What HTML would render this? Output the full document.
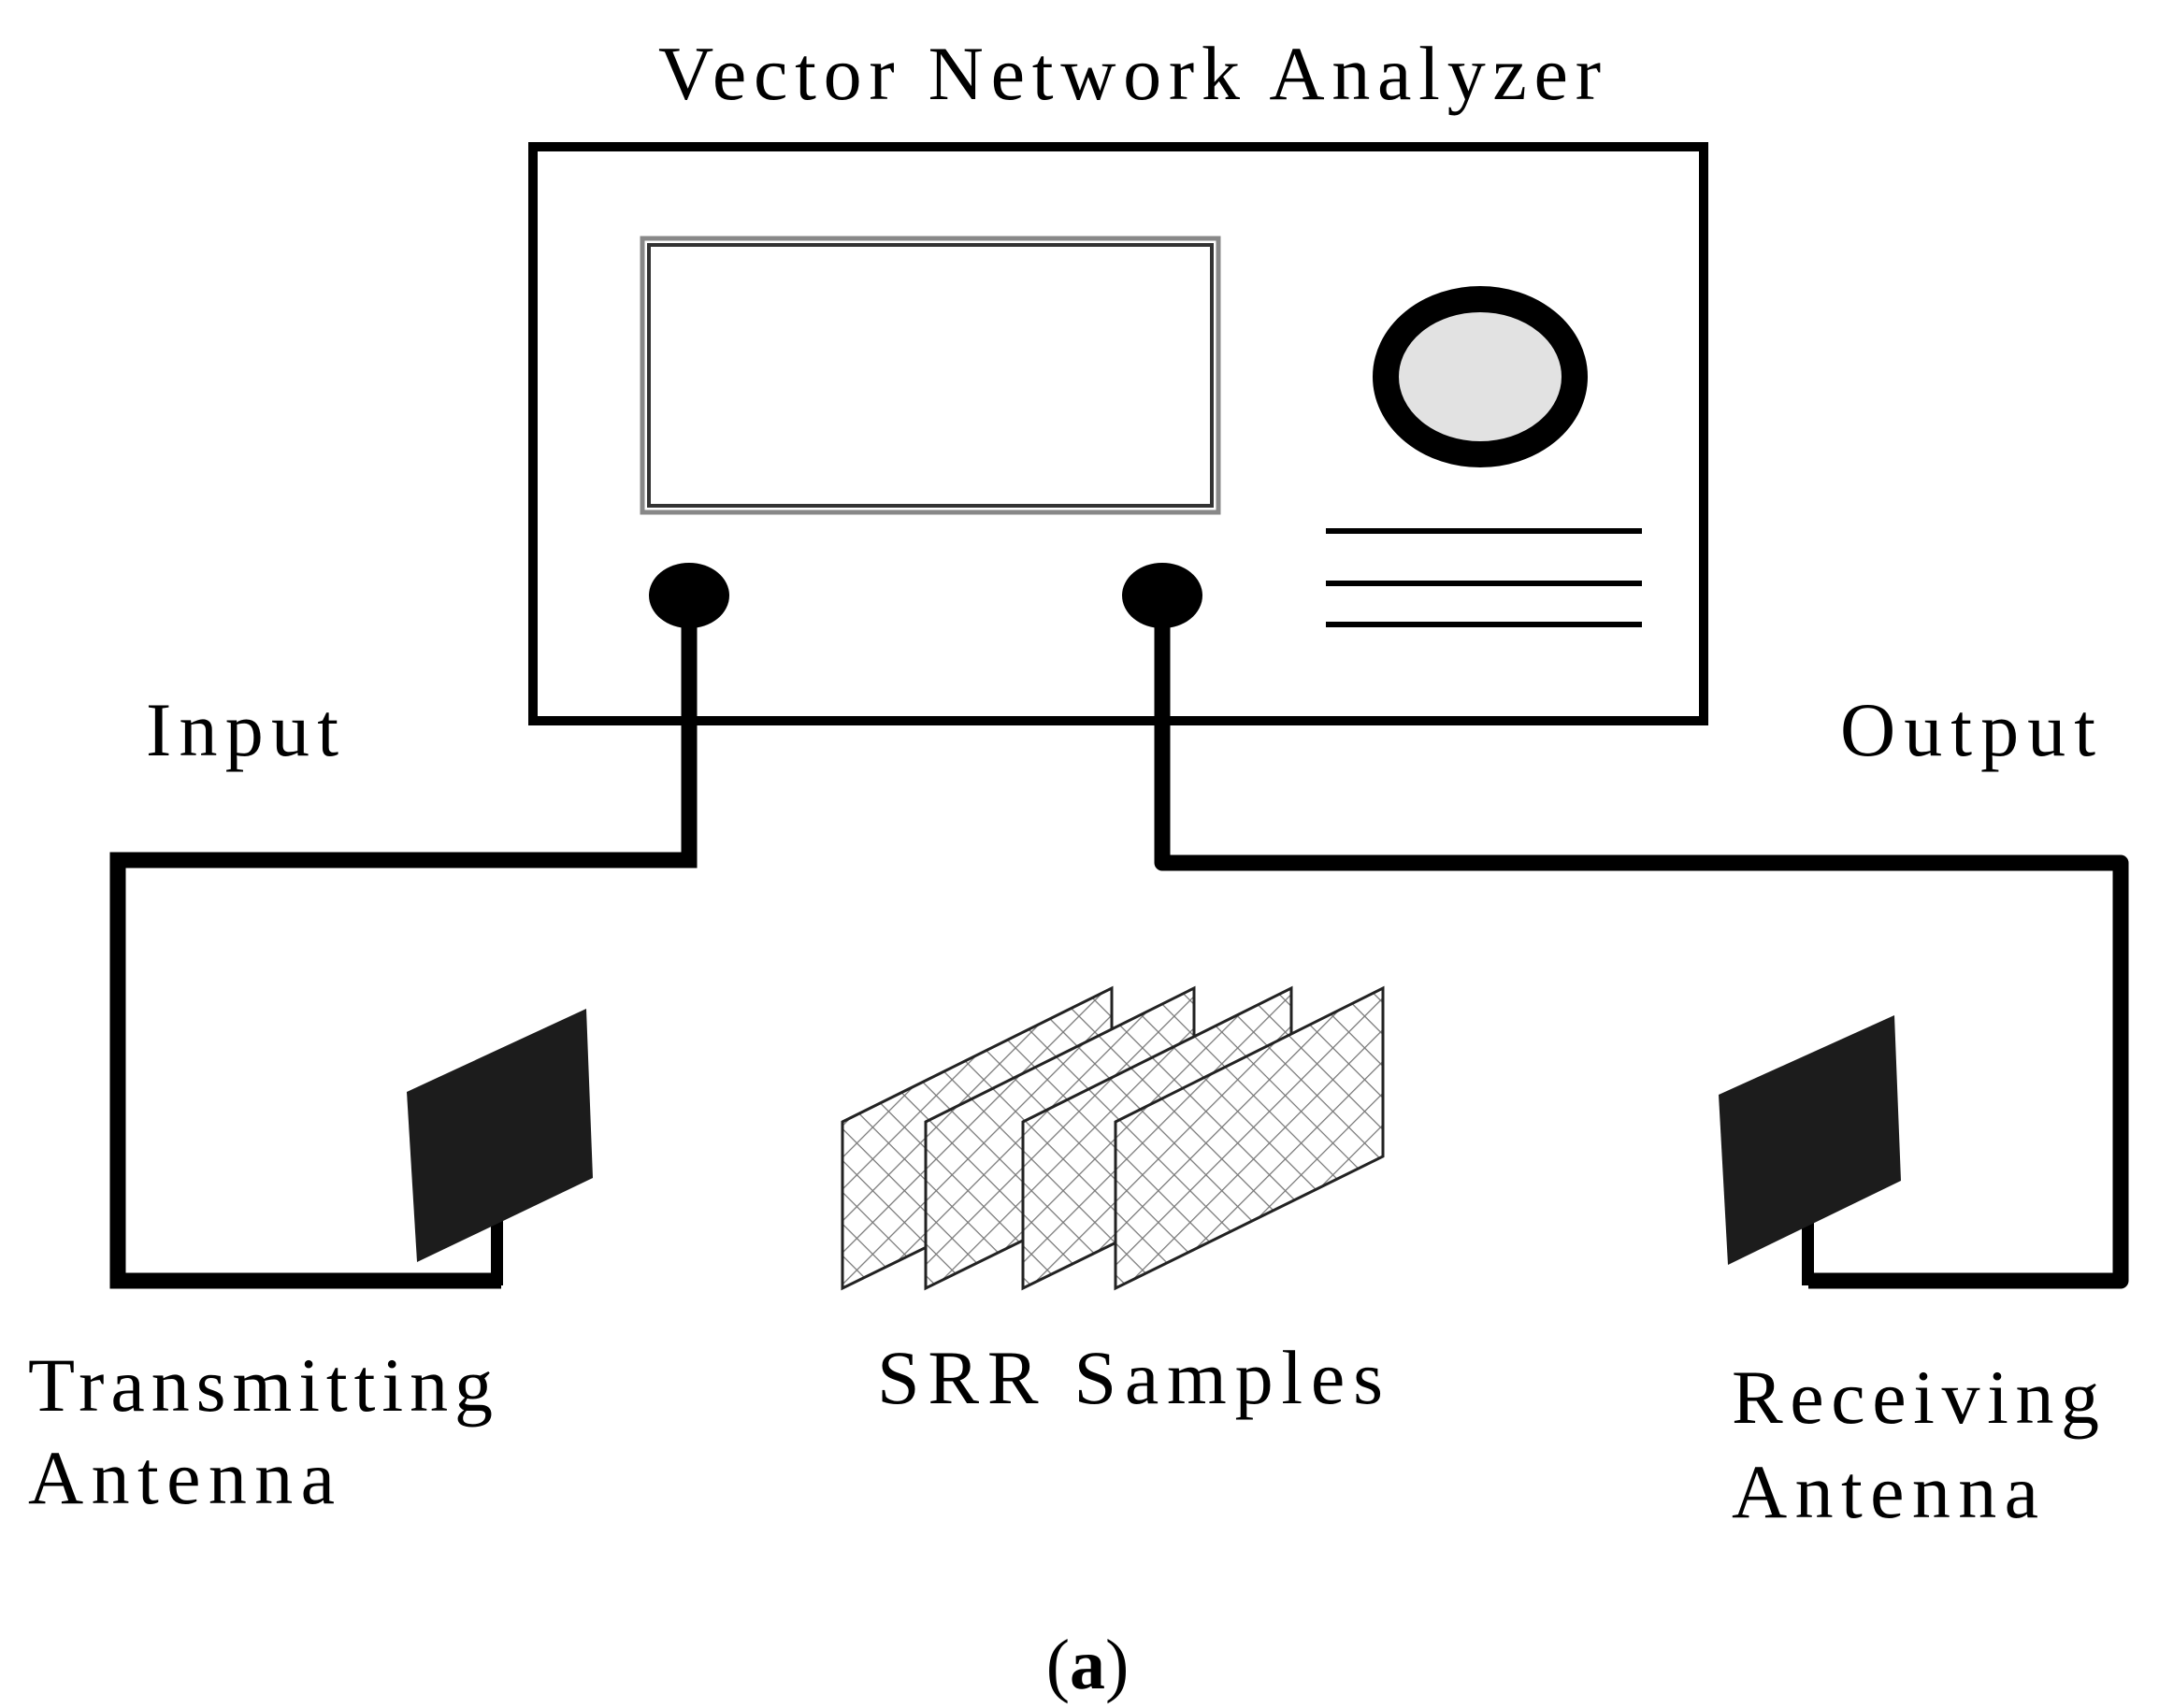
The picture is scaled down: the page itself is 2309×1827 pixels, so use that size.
<!DOCTYPE html>
<html><head><meta charset="utf-8"><style>
html,body{margin:0;padding:0;background:#fff;}
svg{display:block;}
text{font-family:"Liberation Serif",serif;fill:#000;}
</style></head><body>
<svg width="2309" height="1827" viewBox="0 0 2309 1827" xmlns="http://www.w3.org/2000/svg">
<defs>
<pattern id="hatch" width="24" height="24" patternUnits="userSpaceOnUse" patternTransform="rotate(45)">
<rect width="24" height="24" fill="#fff"/>
<line x1="0" y1="0" x2="0" y2="24" stroke="#777" stroke-width="2.5"/>
<line x1="0" y1="0" x2="24" y2="0" stroke="#777" stroke-width="2.5"/>
</pattern>
</defs>
<rect width="2309" height="1827" fill="#fff"/>

<text x="704" y="106" font-size="82" textLength="1008" lengthAdjust="spacing">Vector Network Analyzer</text>

<rect x="570" y="157" width="1252" height="614" fill="none" stroke="#000" stroke-width="10"/>
<rect x="687" y="255" width="616" height="293" fill="none" stroke="#888" stroke-width="5"/>
<rect x="694" y="262" width="602" height="279" fill="none" stroke="#333" stroke-width="4"/>
<ellipse cx="1583" cy="403" rx="101" ry="83" fill="#e2e2e2" stroke="#000" stroke-width="28"/>
<line x1="1418" y1="568" x2="1756" y2="568" stroke="#000" stroke-width="6"/>
<line x1="1418" y1="624" x2="1756" y2="624" stroke="#000" stroke-width="6"/>
<line x1="1418" y1="668" x2="1756" y2="668" stroke="#000" stroke-width="6"/>

<polyline points="737,640 737,920 126,920 126,1370 536,1370" fill="none" stroke="#000" stroke-width="17" stroke-linejoin="miter"/>
<polyline points="1243,640 1243,923 2268,923 2268,1370 1934,1370" fill="none" stroke="#000" stroke-width="17" stroke-linejoin="round"/>
<ellipse cx="737" cy="637" rx="43" ry="35" fill="#000"/>
<ellipse cx="1243" cy="637" rx="43" ry="35" fill="#000"/>

<rect x="525" y="1290" width="13" height="85" fill="#000"/>
<polygon points="435,1168 627,1079 634,1260 446,1350" fill="#1c1c1c"/>
<rect x="1927" y="1295" width="13" height="80" fill="#000"/>
<polygon points="1838,1171 2026,1086 2033,1263 1848,1353" fill="#1c1c1c"/>

<g stroke="#222" stroke-width="3" fill="url(#hatch)">
<polygon points="901,1200 1189,1057 1189,1237 901,1378"/>
<polygon points="990,1200 1277,1057 1277,1237 990,1378"/>
<polygon points="1094,1200 1381,1057 1381,1237 1094,1378"/>
<polygon points="1193,1200 1479,1057 1479,1237 1193,1378"/>
</g>

<text x="156" y="808" font-size="82" textLength="206" lengthAdjust="spacing">Input</text>
<text x="1968" y="808" font-size="82" textLength="273" lengthAdjust="spacing">Output</text>
<text x="30" y="1509" font-size="82" textLength="497" lengthAdjust="spacing">Transmitting</text>
<text x="30" y="1608" font-size="82" textLength="328" lengthAdjust="spacing">Antenna</text>
<text x="938" y="1501" font-size="82" textLength="541" lengthAdjust="spacing">SRR Samples</text>
<text x="1852" y="1522" font-size="82" textLength="393" lengthAdjust="spacing">Receiving</text>
<text x="1852" y="1623" font-size="82" textLength="328" lengthAdjust="spacing">Antenna</text>
<text x="1163" y="1806" font-size="76" text-anchor="middle">(<tspan font-weight="bold">a</tspan>)</text>
</svg>
</body></html>
